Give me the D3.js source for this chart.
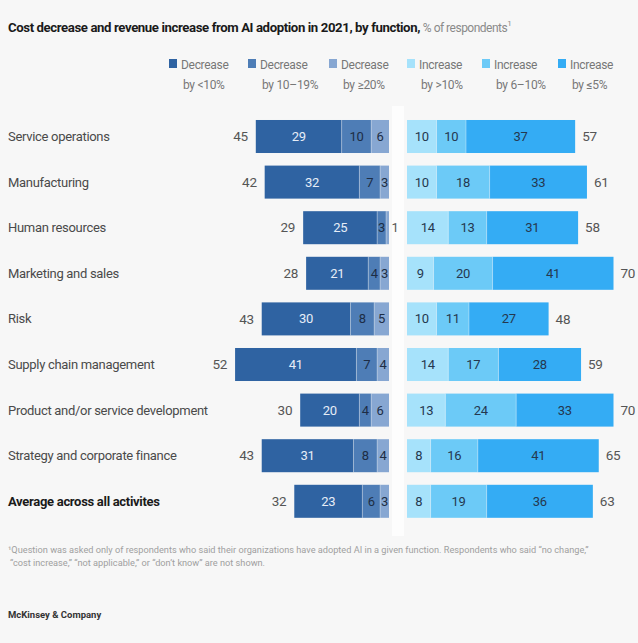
<!DOCTYPE html>
<html>
<head>
<meta charset="utf-8">
<script src="https://cdn.jsdelivr.net/npm/d3@7"></script>
<style>
  html, body { margin: 0; padding: 0; background: #f7f7f7; }
  svg { display: block; font-family: Roboto, "Liberation Sans", sans-serif; }
</style>
</head>
<body>
<svg id="chart" width="638" height="643"></svg>
<script>
// Functions (rows, top to bottom)
const categories = [
  "Service operations",
  "Manufacturing",
  "Human resources",
  "Marketing and sales",
  "Risk",
  "Supply chain management",
  "Product and/or service development",
  "Strategy and corporate finance",
  "Average across all activites"
];

// Cost decrease, % of respondents (drawn leftwards from the centre)
const decreaseLt10   = [29, 32, 25, 21, 30, 41, 20, 31, 23];
const decrease10to19 = [10, 7, 3, 4, 8, 7, 4, 8, 6];
const decreaseGe20   = [6, 3, 1, 3, 5, 4, 6, 4, 3];
const decreaseTotal  = [45, 42, 29, 28, 43, 52, 30, 43, 32];

// Revenue increase, % of respondents (drawn rightwards from the centre)
const increaseGt10   = [10, 10, 14, 9, 10, 14, 13, 8, 8];
const increase6to10  = [10, 18, 13, 20, 11, 17, 24, 16, 19];
const increaseLe5    = [37, 33, 31, 41, 27, 28, 33, 41, 36];
const increaseTotal  = [57, 61, 58, 70, 48, 59, 70, 65, 63];

// Legend labels
const legendLines = [
  ["Decrease", "by <10%"],
  ["Decrease", "by 10\u201319%"],
  ["Decrease", "by \u226520%"],
  ["Increase", "by >10%"],
  ["Increase", "by 6\u201310%"],
  ["Increase", "by \u22645%"]
];

const colors = ["#2f63a2", "#4e7db6", "#87a7d2", "#a6e2fb", "#6ccaf7", "#34acf4"];
const textColors = ["#e6edf7", "#1d2d45", "#1d2d45", "#25384f", "#25384f", "#25384f"];

const svg = d3.select("#chart");

// centre gap
const leftEdge = 389, rightEdge = 407;
svg.append("rect").attr("x", leftEdge + 3).attr("y", 106).attr("width", rightEdge - leftEdge - 6)
  .attr("height", 430).attr("fill", "#fdfdfd");

// Title
const title = svg.append("text").attr("x", 8).attr("y", 32).attr("font-size", 13.2)
  .attr("letter-spacing", -0.4).attr("fill", "#1a1a1a");
title.append("tspan").attr("font-weight", "bold").text("Cost decrease and revenue increase from AI adoption in 2021, by function, ");
title.append("tspan").attr("fill", "#8a8a8a").attr("font-size", 12).attr("letter-spacing", -0.5).text("% of respondents");
title.append("tspan").attr("fill", "#8a8a8a").attr("font-size", 8).attr("dy", -6).text("1");

// Scales
const unitMax = 60;
const xLeft = d3.scaleLinear().domain([0, unitMax]).range([leftEdge, leftEdge - 2.96 * unitMax]);
const xRight = d3.scaleLinear().domain([0, unitMax]).range([rightEdge, rightEdge + 2.95 * unitMax]);
const y = d3.scaleBand().domain(categories).range([113.7, 524.1]).paddingInner(0.276).paddingOuter(0.138);

// Legend
const legendX = [169, 248, 329, 407, 482, 558];
const legend = svg.append("g").attr("font-size", 12).attr("letter-spacing", -0.3).attr("fill", "#777");
legendLines.forEach((lines, i) => {
  const g = legend.append("g").attr("transform", `translate(${legendX[i]},0)`);
  g.append("rect").attr("x", 0).attr("y", 59).attr("width", 8).attr("height", 9).attr("fill", colors[i]);
  g.append("text").attr("x", 12).attr("y", 69).text(lines[0]);
  g.append("text").attr("x", 14).attr("y", 89).text(lines[1]);
});

// Category labels
svg.append("g").selectAll("text").data(categories).join("text")
  .attr("x", 8)
  .attr("y", d => y(d) + y.bandwidth() / 2)
  .attr("dy", "0.35em")
  .attr("font-size", 13)
  .attr("letter-spacing", -0.3)
  .attr("font-weight", (d, i) => i === categories.length - 1 ? "bold" : null)
  .attr("fill", (d, i) => i === categories.length - 1 ? "#1a1a1a" : "#4a4a4a")
  .text(d => d);

// Build stacked segments
const leftSeries = [decreaseGe20, decrease10to19, decreaseLt10];   // centre outward
const leftColorIdx = [2, 1, 0];
const rightSeries = [increaseGt10, increase6to10, increaseLe5];    // centre outward
const rightColorIdx = [3, 4, 5];

const segments = [];
categories.forEach((cat, r) => {
  let acc = 0;
  leftSeries.forEach((s, k) => {
    segments.push({ cat, side: "L", v: s[r], a: acc, b: acc + s[r], c: leftColorIdx[k] });
    acc += s[r];
  });
  acc = 0;
  rightSeries.forEach((s, k) => {
    segments.push({ cat, side: "R", v: s[r], a: acc, b: acc + s[r], c: rightColorIdx[k] });
    acc += s[r];
  });
});

const segX0 = d => d.side === "L" ? xLeft(d.b) : xRight(d.a);
const segX1 = d => d.side === "L" ? xLeft(d.a) : xRight(d.b);

const bars = svg.append("g");
bars.selectAll("rect").data(segments).join("rect")
  .attr("x", segX0)
  .attr("y", d => y(d.cat))
  .attr("width", d => segX1(d) - segX0(d))
  .attr("height", y.bandwidth())
  .attr("fill", d => colors[d.c]);

// thin separators between segments
bars.selectAll("line").data(segments.filter(d => d.a > 0)).join("line")
  .attr("x1", d => d.side === "L" ? xLeft(d.a) : xRight(d.a))
  .attr("x2", d => d.side === "L" ? xLeft(d.a) : xRight(d.a))
  .attr("y1", d => y(d.cat))
  .attr("y2", d => y(d.cat) + y.bandwidth())
  .attr("stroke", "#ffffff").attr("stroke-opacity", 0.35).attr("stroke-width", 1);

// segment value labels (labels of very thin segments sit just outside the bar)
svg.append("g").attr("font-size", 13).attr("letter-spacing", -0.3).attr("text-anchor", "middle")
  .selectAll("text").data(segments).join("text")
  .attr("x", d => {
    const w = segX1(d) - segX0(d);
    if (w < 6) return d.side === "L" ? xLeft(d.a) + 6 : xRight(d.a) - 6;
    return (segX0(d) + segX1(d)) / 2;
  })
  .attr("y", d => y(d.cat) + y.bandwidth() / 2)
  .attr("dy", "0.35em")
  .attr("fill", d => (segX1(d) - segX0(d)) < 6 ? "#555" : textColors[d.c])
  .text(d => d.v);

// totals
const totals = svg.append("g").attr("font-size", 13.5).attr("letter-spacing", -0.3).attr("fill", "#555");
totals.selectAll("text.l").data(categories).join("text").attr("class", "l")
  .attr("x", (d, i) => xLeft(decreaseTotal[i]) - 8)
  .attr("y", d => y(d) + y.bandwidth() / 2).attr("dy", "0.35em")
  .attr("text-anchor", "end")
  .text((d, i) => decreaseTotal[i]);
totals.selectAll("text.r").data(categories).join("text").attr("class", "r")
  .attr("x", (d, i) => xRight(increaseTotal[i]) + 7)
  .attr("y", d => y(d) + y.bandwidth() / 2).attr("dy", "0.35em")
  .text((d, i) => increaseTotal[i]);

// Footnote and source
const foot = svg.append("g").attr("font-size", 9.2).attr("fill", "#a0a0a0");
foot.append("text").attr("x", 8).attr("y", 553)
  .text("\u00B9Question was asked only of respondents who said their organizations have adopted AI in a given function. Respondents who said \u201Cno change,\u201D");
foot.append("text").attr("x", 10).attr("y", 566)
  .text("\u201Ccost increase,\u201D \u201Cnot applicable,\u201D or \u201Cdon\u2019t know\u201D are not shown.");

svg.append("text").attr("x", 8).attr("y", 618).attr("font-size", 9.5).attr("font-weight", "bold")
  .attr("fill", "#333").text("McKinsey & Company");
</script>
</body>
</html>
